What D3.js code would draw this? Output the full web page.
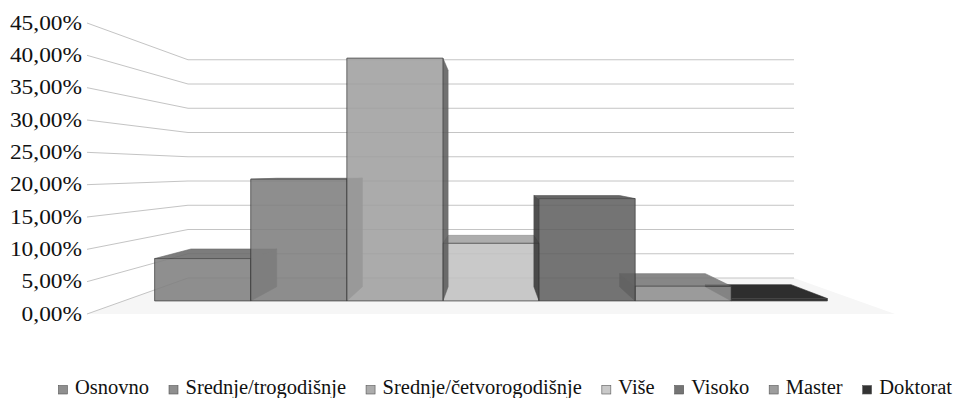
<!DOCTYPE html>
<html>
<head>
<meta charset="utf-8">
<script src="https://cdn.jsdelivr.net/npm/d3@7/dist/d3.min.js"></script>
<style>
  html, body { margin: 0; padding: 0; background: #fff; }
  svg { display: block; }
</style>
</head>
<body>
<svg id="chart" width="956" height="398"></svg>
<script>
// ---- data ----
const categories = ["Osnovno", "Srednje/trogodišnje", "Srednje/četvorogodišnje", "Više", "Visoko", "Master", "Doktorat"];
const values = [7.2, 20.7, 41.3, 9.8, 17.4, 2.5, 0.4];
const colors = ["#808080", "#7f7f7f", "#a0a0a0", "#c2c2c2", "#616161", "#8f8f8f", "#171717"];
const tickValues = [0, 5, 10, 15, 20, 25, 30, 35, 40, 45];
const tickLabels = ["0,00%", "5,00%", "10,00%", "15,00%", "20,00%", "25,00%", "30,00%", "35,00%", "40,00%", "45,00%"];

// ---- layout ----
const FONT = "Liberation Serif";
const W = 956, H = 398;
const svg = d3.select("#chart");
const VP = { x: 491, y: 170 };           // vanishing point
const floorX = [87, 895];               // front plane extent
const x = d3.scaleBand().domain(categories).range([121, 861]).padding(0);
const y = d3.scaleLinear().domain([0, 45]).range([314, 23]);
const Z0 = 0.3, Z1 = 0.7;               // bar depth

function proj(xf, yf, z) {
  const s = 1 / (1 + z / 3);
  return [VP.x + (xf - VP.x) * s, VP.y + (yf - VP.y) * s];
}
const line = d3.line();
function poly(pts) { return line(pts) + "Z"; }

// floor
svg.append("path")
  .attr("d", poly([proj(floorX[0], y(0), 0), proj(floorX[1], y(0), 0), proj(floorX[1], y(0), 1), proj(floorX[0], y(0), 1)]))
  .attr("fill", "#f6f6f6");

// gridlines (side wall diagonal + back wall)
const grid = svg.append("g");
tickValues.forEach(t => {
  const yf = y(t);
  grid.append("path")
    .attr("d", line([proj(floorX[0], yf, 0), proj(floorX[0], yf, 1), proj(floorX[1], yf, 1)]))
    .attr("fill", "none")
    .attr("stroke", "#c4c4c4")
    .attr("stroke-width", 1);
});

// axis labels
const axisG = svg.append("g");
tickValues.forEach((t, i) => {
  axisG.append("text")
    .attr("transform", `translate(82,${y(t)}) scale(1.17,1)`)
    .attr("text-anchor", "end")
    .attr("dy", "0.34em")
    .attr("font-family", FONT)
    .attr("font-size", 20)
    .attr("fill", "#111")
    .text(tickLabels[i]);
});

// bars
const bars = categories.map((c, i) => ({ c, i, v: values[i], col: colors[i] }));
const order = [0, 6, 1, 5, 3, 2, 4];
const barG = svg.append("g");
order.forEach(i => {
  const b = bars[i];
  const x0 = x(b.c), x1 = x0 + x.bandwidth();
  const yt = y(b.v), yb = y(0);
  const g = barG.append("g").attr("opacity", 0.88);
  const sideK = 2 - Math.abs(i - 3) * 0.5;
  if (x1 < VP.x) {
    g.append("path")
      .attr("d", poly([proj(x1, yt, Z0), proj(x1, yt, Z1), proj(x1, yb, Z1), proj(x1, yb, Z0)]))
      .attr("fill", d3.color(b.col).darker(sideK))
      .attr("stroke", d3.color(b.col).darker(sideK + 0.3)).attr("stroke-width", 0.5);
  } else if (x0 > VP.x) {
    g.append("path")
      .attr("d", poly([proj(x0, yt, Z0), proj(x0, yt, Z1), proj(x0, yb, Z1), proj(x0, yb, Z0)]))
      .attr("fill", d3.color(b.col).darker(sideK))
      .attr("stroke", d3.color(b.col).darker(sideK + 0.3)).attr("stroke-width", 0.5);
  }
  if (yt > VP.y) {
    g.append("path")
      .attr("d", poly([proj(x0, yt, Z0), proj(x1, yt, Z0), proj(x1, yt, Z1), proj(x0, yt, Z1)]))
      .attr("fill", d3.color(b.col).darker(0.5))
      .attr("stroke", d3.color(b.col).darker(1.1)).attr("stroke-width", 0.6);
  }
  g.append("path")
    .attr("d", poly([proj(x0, yt, Z0), proj(x1, yt, Z0), proj(x1, yb, Z0), proj(x0, yb, Z0)]))
    .attr("fill", b.col)
    .attr("stroke", "#2e2e2e").attr("stroke-width", 0.8);
});

// legend
const legG = svg.append("g");
const items = [];
categories.forEach((c, i) => {
  const it = legG.append("g");
  it.append("rect").attr("x", 0).attr("y", 385.5).attr("width", 9).attr("height", 8.5)
    .attr("fill", colors[i]).attr("fill-opacity", 0.88)
    .attr("stroke", "#555").attr("stroke-width", 0.6);
  const tx = it.append("text").attr("x", 16.5).attr("y", 394)
    .attr("font-family", FONT).attr("font-size", 20.5).attr("fill", "#111").text(c);
  items.push({ g: it, w: 16.5 + tx.node().getComputedTextLength() });
});
const gap = 20;
const total = d3.sum(items, d => d.w) + gap * (items.length - 1);
let cx = 952 - total;
items.forEach(d => { d.g.attr("transform", `translate(${cx},0)`); cx += d.w + gap; });
</script>
</body>
</html>
